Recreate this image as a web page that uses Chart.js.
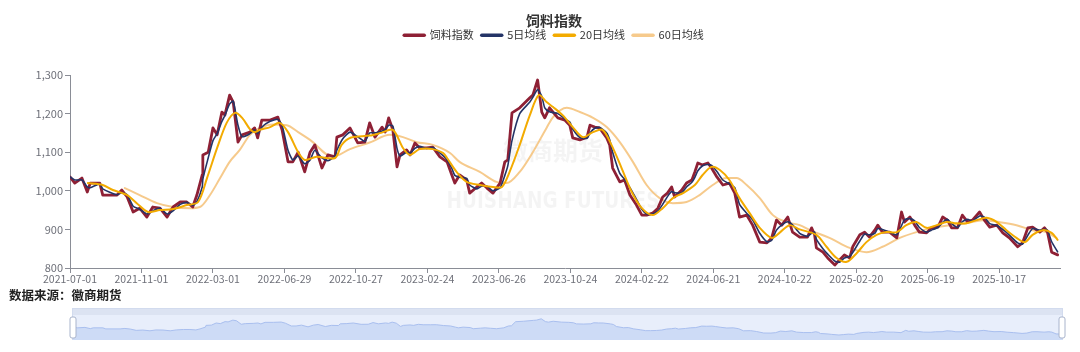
<!DOCTYPE html>
<html>
<head>
<meta charset="utf-8">
<script src="https://cdn.jsdelivr.net/npm/chart.js@4.4.1/dist/chart.umd.min.js"></script>
<style>
  html, body { margin: 0; padding: 0; background: #fff; }
  #wrap { position: relative; width: 1080px; height: 352px; overflow: hidden; }
  #main { position: absolute; left: 0; top: 0; }
  #zoom { position: absolute; left: 0; top: 300px; }
  #source { position: absolute; left: 9px; top: 285px; font: bold 12.5px "Noto Sans CJK SC", sans-serif; color: #222; }
</style>
</head>
<body>
<div id="wrap">
  <canvas id="main" width="1080" height="290" style="width:1080px;height:290px"></canvas>
  <div id="source">数据来源：徽商期货</div>
  <canvas id="zoom" width="1080" height="52" style="width:1080px;height:52px"></canvas>
</div>
<script>
const FONT = '"Noto Sans CJK SC", "Noto Sans", sans-serif';

// x axis: trading-day index from 2021-07-01, a label every 120 days
const tickDays = [0, 120, 240, 360, 480, 600, 720, 840, 960, 1080, 1200, 1320, 1440, 1560];
const tickLabels = ['2021-07-01', '2021-11-01', '2022-03-01', '2022-06-29', '2022-10-27', '2023-02-24', '2023-06-26',
  '2023-10-24', '2024-02-22', '2024-06-21', '2024-10-22', '2025-02-20', '2025-06-19', '2025-10-17'];
const lastDay = 1662;
const yTicks = [800, 900, 1000, 1100, 1200, 1300];

// 饲料指数 and 5日均线 (same day positions)
const feedX = [0, 8, 20, 29, 34, 50, 55, 79, 87, 96, 106, 117, 129, 139, 151, 163, 173, 185, 196, 206,
  213, 222, 223, 232, 240, 247, 255, 260, 268, 274, 282, 289, 302, 310, 315, 322, 336, 349, 356, 366,
  374, 383, 394, 403, 411, 423, 433, 445, 448, 458, 470, 483, 495, 503, 512, 524, 529, 535, 542, 549,
  554, 565, 571, 579, 587, 599, 609, 621, 633, 641, 646, 654, 666, 671, 683, 691, 700, 710, 722, 730,
  735, 742, 755, 772, 777, 785, 792, 797, 805, 819, 831, 839, 844, 856, 868, 873, 881, 889, 901, 906,
  911, 923, 931, 940, 951, 960, 968, 978, 987, 995, 1003, 1010, 1015, 1027, 1035, 1044, 1049, 1054, 1062, 1071,
  1077, 1086, 1096, 1107, 1116, 1124, 1136, 1146, 1158, 1170, 1178, 1186, 1195, 1205, 1213, 1225, 1238, 1245, 1250, 1253,
  1264, 1272, 1284, 1292, 1300, 1309, 1314, 1326, 1334, 1342, 1351, 1356, 1364, 1376, 1388, 1396, 1401, 1410, 1418, 1426,
  1438, 1446, 1457, 1465, 1473, 1480, 1490, 1498, 1507, 1515, 1527, 1535, 1544, 1556, 1566, 1577, 1591, 1599, 1608, 1616,
  1628, 1636, 1641, 1648, 1658];
const feedY = [1036, 1020, 1033, 997, 1020, 1020, 989, 989, 1002, 984, 945, 955, 932, 958, 955, 932, 958, 971, 971, 958,
  989, 1041, 1093, 1100, 1163, 1145, 1204, 1196, 1248, 1230, 1126, 1145, 1152, 1163, 1137, 1183, 1183, 1191, 1158, 1075,
  1075, 1100, 1049, 1100, 1119, 1059, 1093, 1088, 1139, 1145, 1163, 1124, 1126, 1176, 1139, 1165, 1152, 1189, 1158, 1062,
  1093, 1106, 1093, 1124, 1111, 1111, 1113, 1088, 1075, 1041, 1020, 1041, 1028, 994, 1010, 1020, 1007, 994, 1020, 1075,
  1080, 1202, 1215, 1241, 1248, 1287, 1204, 1189, 1215, 1189, 1183, 1170, 1137, 1132, 1139, 1170, 1165, 1163, 1137, 1119,
  1059, 1023, 1028, 989, 963, 937, 937, 942, 955, 984, 994, 1010, 984, 1002, 1020, 1028, 1049, 1072, 1067, 1072,
  1059, 1036, 1015, 1020, 994, 932, 937, 911, 867, 865, 878, 924, 911, 932, 893, 880, 880, 904, 886, 852,
  841, 826, 808, 821, 834, 826, 855, 886, 893, 880, 898, 911, 893, 893, 878, 945, 919, 932, 911, 893,
  891, 904, 906, 932, 924, 904, 904, 937, 919, 924, 945, 924, 906, 911, 891, 878, 855, 865, 904, 906,
  893, 904, 893, 841, 834];
const ma5Y = [1036, 1028, 1028, 1010, 1008, 1018, 1005, 990, 995, 990, 960, 952, 940, 948, 955, 940, 948, 965, 970, 962,
  972, 1010, 1030, 1085, 1130, 1148, 1180, 1195, 1225, 1232, 1170, 1140, 1148, 1158, 1148, 1165, 1180, 1185, 1170, 1105,
  1080, 1090, 1070, 1080, 1105, 1085, 1078, 1090, 1105, 1135, 1152, 1140, 1128, 1150, 1150, 1155, 1158, 1170, 1168, 1110,
  1090, 1100, 1098, 1110, 1115, 1110, 1112, 1098, 1080, 1058, 1040, 1035, 1032, 1015, 1005, 1012, 1012, 1000, 1008, 1040,
  1065, 1130, 1200, 1230, 1242, 1262, 1245, 1215, 1205, 1200, 1186, 1178, 1160, 1138, 1136, 1150, 1162, 1164, 1150, 1132,
  1100, 1045, 1030, 1008, 978, 952, 940, 940, 948, 965, 985, 998, 995, 995, 1010, 1022, 1035, 1052, 1065, 1068,
  1066, 1050, 1028, 1018, 1008, 965, 942, 925, 890, 868, 872, 898, 912, 920, 912, 890, 882, 890, 893, 875,
  850, 836, 818, 815, 826, 830, 840, 870, 888, 886, 890, 902, 900, 893, 886, 910, 925, 928, 922, 905,
  893, 898, 905, 918, 926, 915, 905, 920, 926, 922, 935, 932, 915, 910, 900, 885, 865, 862, 885, 902,
  898, 900, 898, 868, 842];

// 20日均线
const ma20X = [30, 55, 72, 96, 112, 131, 151, 173, 196, 215, 230, 247, 263, 277, 289, 302, 310, 319, 336, 352,
  366, 383, 394, 414, 445, 456, 472, 503, 522, 542, 559, 571, 587, 609, 626, 633, 649, 666, 688, 710,
  725, 738, 755, 772, 787, 800, 811, 827, 844, 861, 878, 894, 909, 926, 943, 960, 978, 995, 1012, 1029,
  1049, 1062, 1077, 1091, 1107, 1124, 1141, 1158, 1178, 1191, 1208, 1225, 1253, 1270, 1287, 1304, 1321, 1337, 1354, 1371,
  1388, 1404, 1421, 1438, 1455, 1472, 1488, 1505, 1522, 1539, 1556, 1572, 1589, 1603, 1616, 1633, 1648, 1658];
const ma20Y = [1020, 1015, 1002, 989, 968, 945, 950, 953, 963, 971, 1033, 1111, 1176, 1202, 1189, 1160, 1152, 1158, 1165, 1176,
  1152, 1100, 1080, 1088, 1085, 1119, 1138, 1143, 1150, 1158, 1111, 1093, 1108, 1108, 1098, 1085, 1049, 1023, 1015, 1010,
  1010, 1049, 1119, 1196, 1248, 1230, 1217, 1196, 1165, 1139, 1152, 1158, 1119, 1059, 997, 955, 937, 955, 981, 994,
  1015, 1041, 1062, 1054, 1028, 981, 942, 904, 878, 891, 911, 900, 886, 855, 826, 816, 839, 867, 886, 893,
  893, 911, 919, 904, 911, 919, 916, 916, 924, 930, 919, 898, 878, 867, 886, 898, 891, 873];

// 60日均线
const ma60X = [92, 117, 146, 173, 201, 218, 235, 252, 268, 285, 302, 319, 341, 364, 383, 403, 441, 470, 503, 537,
  559, 582, 609, 638, 654, 688, 716, 733, 755, 777, 800, 811, 834, 856, 878, 901, 923, 945, 968, 990,
  1012, 1035, 1057, 1079, 1102, 1119, 1136, 1158, 1180, 1203, 1225, 1242, 1275, 1309, 1337, 1364, 1393, 1421, 1448, 1477,
  1505, 1532, 1560, 1589, 1616, 1639, 1656];
const ma60Y = [1007, 989, 968, 958, 955, 958, 989, 1033, 1075, 1106, 1145, 1163, 1172, 1170, 1152, 1132, 1088, 1108, 1125, 1145,
  1139, 1126, 1119, 1098, 1075, 1049, 1023, 1020, 1049, 1100, 1163, 1191, 1215, 1204, 1189, 1165, 1126, 1075, 1015, 981,
  968, 971, 989, 1015, 1033, 1033, 1015, 981, 937, 919, 911, 898, 878, 852, 841, 855, 878, 893, 904, 911,
  916, 924, 919, 911, 898, 893, 878];

const pts = (xs, ys) => xs.map((x, i) => ({ x: x, y: ys[i] }));
const axisColor = '#8a8d96';
const labelColor = '#6e7079';

const watermark = {
  id: 'watermark',
  beforeDatasetsDraw(chart) {
    const ctx = chart.ctx;
    ctx.save();
    ctx.textAlign = 'center';
    ctx.textBaseline = 'middle';
    ctx.fillStyle = 'rgba(0,0,0,0.045)';
    ctx.font = 'bold 25px ' + FONT;
    ctx.fillText('徽商期货', 553, 150);
    ctx.font = 'bold 23px "DejaVu Sans Condensed", sans-serif';
    ctx.fillText('HUISHANG FUTURES', 553, 202, 213);
    ctx.restore();
  }
};

new Chart(document.getElementById('main'), {
  type: 'line',
  data: {
    datasets: [
      { label: '饲料指数', data: pts(feedX, feedY), borderColor: '#8e2035', borderWidth: 2.8, tension: 0, order: 3 },
      { label: '5日均线', data: pts(feedX, ma5Y), borderColor: '#243467', borderWidth: 1.6, tension: 0.2, order: 2 },
      { label: '20日均线', data: pts(ma20X, ma20Y), borderColor: '#f3ab00', borderWidth: 2, tension: 0.3, order: 1 },
      { label: '60日均线', data: pts(ma60X, ma60Y), borderColor: 'rgba(245,196,128,0.9)', borderWidth: 2,
        cubicInterpolationMode: 'monotone', order: 4 }
    ]
  },
  options: {
    responsive: false,
    animation: false,
    parsing: false,
    layout: { padding: { left: 28, right: 0, top: 0, bottom: 0 } },
    elements: { point: { radius: 0 }, line: { borderJoinStyle: 'round', borderCapStyle: 'round' } },
    scales: {
      x: {
        type: 'linear',
        min: 0,
        max: lastDay,
        afterBuildTicks: (s) => { s.ticks = tickDays.map(v => ({ value: v })); },
        afterFit: (s) => { s.height = 22; },
        ticks: {
          autoSkip: false,
          maxRotation: 0,
          padding: 0,
          color: labelColor,
          font: { size: 10.5, family: FONT },
          callback: (v) => tickLabels[tickDays.indexOf(v)]
        },
        grid: { drawOnChartArea: false, drawTicks: true, tickLength: 5, color: axisColor },
        border: { display: true, color: axisColor }
      },
      y: {
        min: 800,
        max: 1300,
        afterBuildTicks: (s) => { s.ticks = yTicks.map(v => ({ value: v })); },
        afterFit: (s) => { s.width = 42; },
        ticks: {
          padding: 2,
          color: labelColor,
          font: { size: 11, family: FONT },
          callback: (v) => v.toLocaleString('en-US')
        },
        grid: { drawOnChartArea: false, drawTicks: true, tickLength: 5, color: axisColor },
        border: { display: true, color: axisColor }
      },
      // empty right-hand gutter so the plot ends at 1060 while the title stays centred like the original
      gutter: {
        position: 'right',
        display: true,
        grid: { display: false },
        border: { display: false },
        ticks: { display: false },
        afterFit: (s) => { s.width = 20; }
      }
    },
    plugins: {
      title: {
        display: true,
        text: '饲料指数',
        color: '#333',
        font: { size: 14, weight: 'bold', family: FONT },
        padding: { top: 12, bottom: -7 }
      },
      subtitle: {
        display: true,
        text: ' ',
        font: { size: 10 },
        padding: { top: 0, bottom: 12.2 }
      },
      legend: {
        weight: 1800,
        labels: {
          usePointStyle: true,
          pointStyle: 'line',
          pointStyleWidth: 20,
          boxWidth: 20,
          padding: 8,
          color: '#333',
          font: { size: 11, family: FONT },
          sort: (a, b) => a.datasetIndex - b.datasetIndex,
          generateLabels(chart) {
            const items = Chart.defaults.plugins.legend.labels.generateLabels(chart);
            return items.map(it => Object.assign(it, {
              lineWidth: 3.5,
              lineCap: 'round',
              strokeStyle: chart.data.datasets[it.datasetIndex].borderColor
            }));
          }
        }
      },
      tooltip: { enabled: false }
    }
  },
  plugins: [watermark]
});

// data zoom slider below the chart
const sliderFrame = {
  id: 'sliderFrame',
  beforeDraw(chart) {
    const ctx = chart.ctx;
    const a = chart.chartArea;
    ctx.save();
    ctx.fillStyle = '#e8eefb';
    ctx.fillRect(a.left - 1, a.top, a.right - a.left + 2, a.bottom - a.top);
    ctx.fillStyle = '#dce3f2';
    ctx.fillRect(a.left - 1, a.top - 7, a.right - a.left + 2, 7);
    ctx.strokeStyle = '#d2dbee';
    ctx.lineWidth = 1;
    ctx.strokeRect(a.left - 0.5, a.top - 6.5, a.right - a.left + 1, a.bottom - a.top + 6);
    ctx.restore();
  },
  afterDraw(chart) {
    const ctx = chart.ctx;
    const a = chart.chartArea;
    ctx.save();
    ctx.fillStyle = '#fff';
    ctx.strokeStyle = '#a9b4cc';
    ctx.lineWidth = 1;
    [a.left, a.right].forEach(x => {
      ctx.beginPath();
      ctx.roundRect(x - 3, a.top + 2, 6, a.bottom - a.top - 4, 2);
      ctx.fill();
      ctx.stroke();
    });
    ctx.restore();
  }
};

new Chart(document.getElementById('zoom'), {
  type: 'line',
  data: {
    datasets: [{
      data: pts(feedX, feedY),
      borderColor: '#a9bfef',
      borderWidth: 1,
      backgroundColor: '#cddbf6',
      fill: 'start',
      pointRadius: 0,
      tension: 0
    }]
  },
  options: {
    responsive: false,
    animation: false,
    parsing: false,
    layout: { padding: { left: 73, right: 18, top: 15, bottom: 12 } },
    scales: {
      x: { type: 'linear', min: 0, max: feedX[feedX.length - 1], display: false },
      y: { min: 660, max: 1400, display: false }
    },
    plugins: { legend: { display: false }, tooltip: { enabled: false } }
  },
  plugins: [sliderFrame]
});
</script>
</body>
</html>
